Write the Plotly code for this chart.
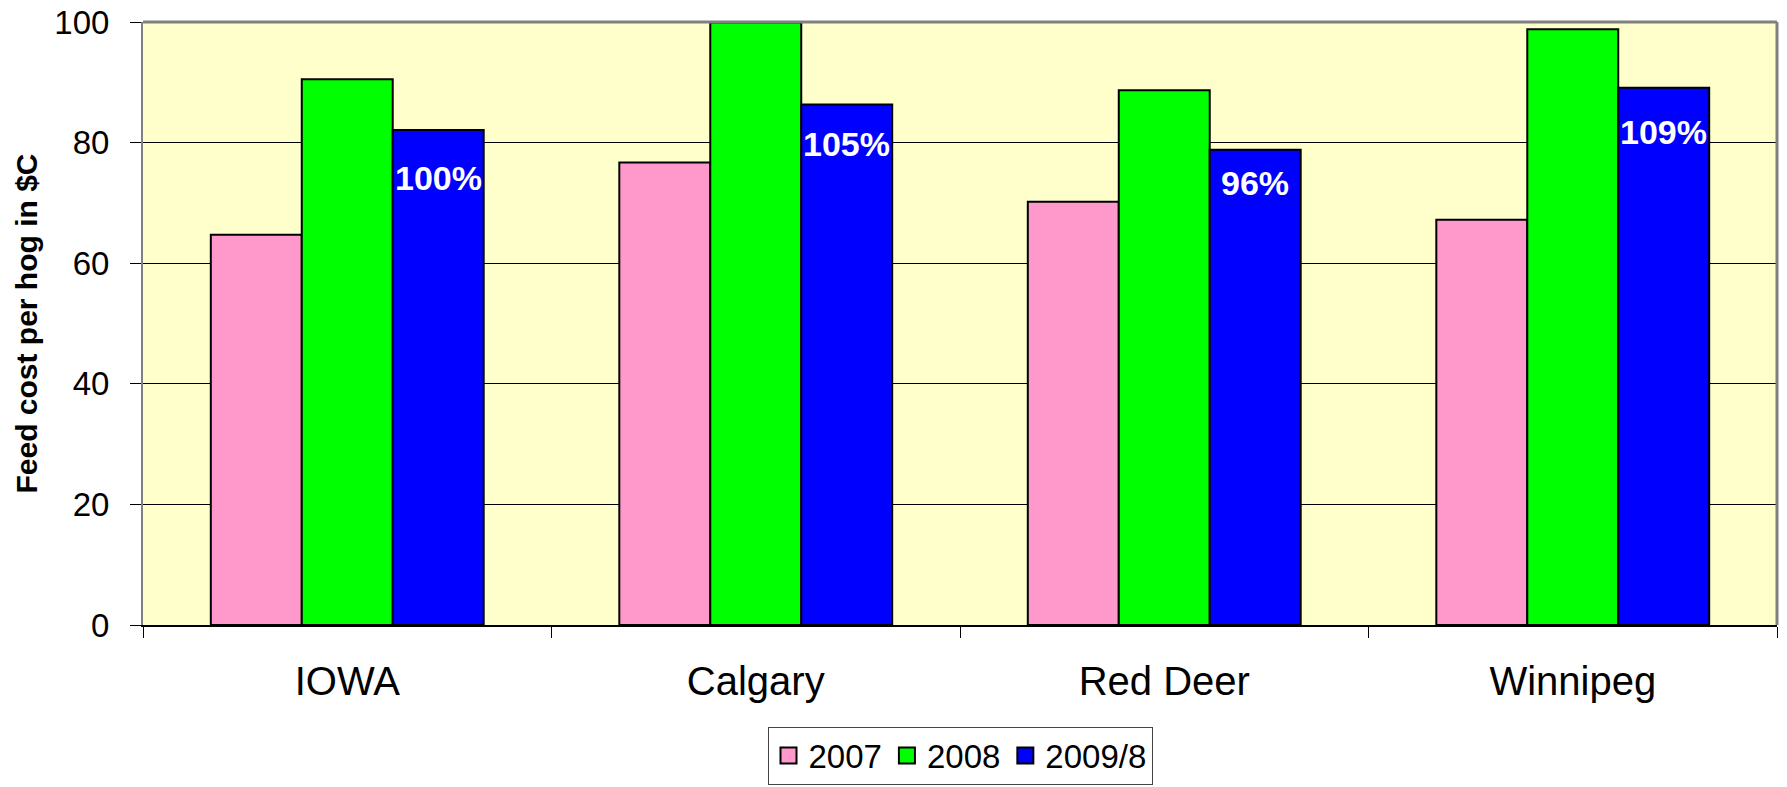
import plotly.graph_objects as go

# Feed cost per hog by location, $C
locations = ["IOWA", "Calgary", "Red Deer", "Winnipeg"]
series_names = ["2007", "2008", "2009/8"]
cost_2007 = [64.7, 76.7, 70.2, 67.2]
cost_2008 = [90.5, 99.9, 88.7, 98.8]
cost_2009 = [82.1, 86.3, 78.8, 89.1]
y_ticks = [0, 20, 40, 60, 80, 100]

colors = ["#FF99CC", "#00FF00", "#0000FF"]
FONT = "Arial, Liberation Sans, sans-serif"

fig = go.Figure()
for name, vals, col in zip(series_names, [cost_2007, cost_2008, cost_2009], colors):
    fig.add_trace(go.Bar(
        x=locations, y=vals, name=name, showlegend=False,
        marker=dict(color=col, line=dict(color="black", width=2)),
    ))
    # legend proxy with a larger square swatch
    fig.add_trace(go.Scatter(
        x=[None], y=[None], mode="markers", name=name,
        marker=dict(symbol="square", size=16, color=col,
                    line=dict(color="black", width=2)),
    ))

# 2009/8 cost as a share of the IOWA figure, printed inside the blue bars
base = cost_2009[0]
label_drop = [48, 39, 33, 44]  # pixel nudge below each bar top
for loc, v, drop in zip(locations, cost_2009, label_drop):
    fig.add_annotation(
        x=loc, y=v, text=f"{round(v / base * 100)}%", showarrow=False,
        xshift=91, yshift=-drop, yanchor="middle",
        font=dict(family=FONT, size=34, color="white", weight="bold"),
    )

fig.update_layout(
    width=1787, height=787,
    margin=dict(l=143, r=10, t=22, b=162, pad=0, autoexpand=False),
    paper_bgcolor="white", plot_bgcolor="#FFFFCC",
    barmode="group", bargap=0.332, bargroupgap=0,
    font=dict(family=FONT, color="black"),
    legend=dict(
        orientation="h", x=0.5, xanchor="center",
        yref="container", y=0.04, yanchor="middle",
        bordercolor="#444444", borderwidth=1, bgcolor="white",
        font=dict(family=FONT, size=33), traceorder="normal",
    ),
    xaxis=dict(
        type="category", tickson="boundaries", ticks="outside", ticklen=11,
        tickcolor="black", tickwidth=1, showline=True, linecolor="black",
        linewidth=2, tickfont=dict(family=FONT, size=40),
        ticklabelstandoff=20, showgrid=False, mirror=False, automargin=False,
    ),
    yaxis=dict(
        range=[0, 100], tickvals=y_ticks, ticks="outside", ticklen=11,
        tickcolor="black", showgrid=True, gridcolor="black", gridwidth=1,
        showline=True, linecolor="#808080", linewidth=2, zeroline=False,
        tickfont=dict(family=FONT, size=33), ticklabelstandoff=14,
        automargin=False,
        title=dict(text="Feed cost per hog in $C", standoff=8,
                   font=dict(family=FONT, size=30, weight="bold")),
    ),
)

# grey frame along the top and right of the plotting area
fig.add_shape(type="line", xref="paper", yref="paper", x0=0, x1=1, y0=1, y1=1,
              line=dict(color="#808080", width=3))
fig.add_shape(type="line", xref="paper", yref="paper", x0=1, x1=1, y0=0, y1=1,
              line=dict(color="#808080", width=3))

fig.write_html("out.html")
